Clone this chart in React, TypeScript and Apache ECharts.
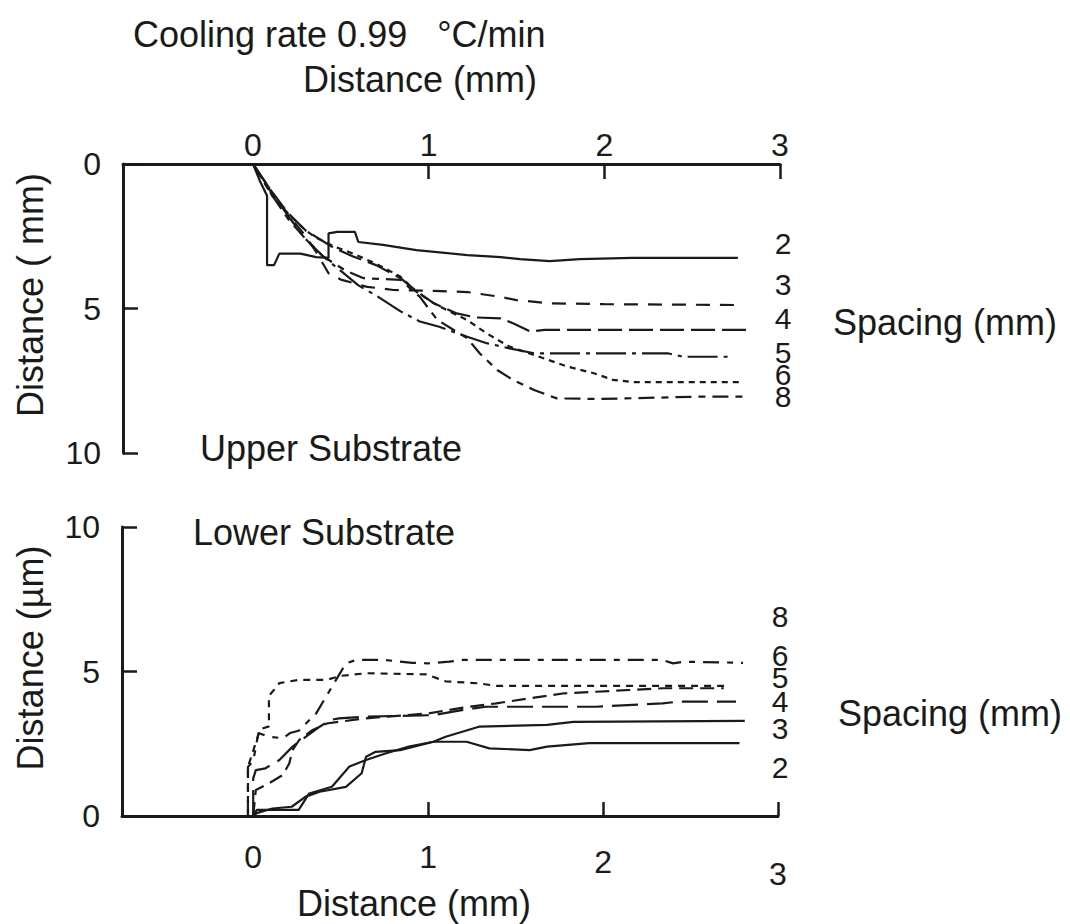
import React, { useEffect, useRef } from "react";
import * as echarts from "echarts";

// ---------- data ----------
// Upper substrate: [distance along (mm), distance down (mm)]
const upperSpacing2: [number, number][] = [
  [0, 0], [0.02, 0.3], [0.04, 0.6], [0.06, 0.85], [0.08, 1.1], [0.08, 3.5], [0.12, 3.5],
  [0.15, 3.1], [0.27, 3.1], [0.36, 3.22], [0.43, 3.25], [0.43, 2.4], [0.48, 2.35],
  [0.58, 2.35], [0.6, 2.7], [0.74, 2.8], [0.93, 2.98], [1.22, 3.15], [1.41, 3.22],
  [1.52, 3.29], [1.69, 3.36], [1.86, 3.29], [2.16, 3.25], [2.76, 3.25],
];
const upperSpacing3: [number, number][] = [
  [0, 0], [0.05, 0.5], [0.1, 0.95], [0.2, 1.75], [0.3, 2.5], [0.36, 3.05], [0.43, 3.78],
  [0.5, 4.0], [0.65, 4.25], [0.8, 4.36], [1.03, 4.39], [1.22, 4.43], [1.41, 4.6],
  [1.5, 4.71], [1.69, 4.82], [2.0, 4.85], [2.76, 4.88],
];
const upperSpacing4: [number, number][] = [
  [0, 0], [0.1, 0.9], [0.2, 1.7], [0.3, 2.3], [0.46, 2.9], [0.57, 3.2], [0.7, 3.5],
  [0.84, 3.95], [0.93, 4.4], [1.03, 4.82], [1.16, 5.17], [1.27, 5.31], [1.41, 5.34],
  [1.48, 5.51], [1.58, 5.8], [1.66, 5.74], [2.81, 5.74],
];
const upperSpacing5: [number, number][] = [
  [0, 0], [0.1, 0.9], [0.2, 1.8], [0.3, 2.6], [0.4, 3.2], [0.5, 3.7], [0.6, 4.2],
  [0.7, 4.55], [0.84, 5.1], [0.95, 5.45], [1.06, 5.63], [1.22, 5.98], [1.33, 6.2],
  [1.46, 6.38], [1.6, 6.55], [2.36, 6.55], [2.45, 6.67], [2.73, 6.67],
];
const upperSpacing6: [number, number][] = [
  [0, 0], [0.12, 1.2], [0.23, 1.9], [0.3, 2.3], [0.36, 2.55], [0.46, 2.85], [0.57, 3.1],
  [0.7, 3.45], [0.84, 3.9], [0.93, 4.42], [1.03, 4.82], [1.12, 5.11], [1.22, 5.4],
  [1.33, 5.86], [1.46, 6.32], [1.63, 6.67], [1.79, 7.01], [1.94, 7.24], [2.05, 7.47],
  [2.17, 7.55], [2.78, 7.55],
];
const upperSpacing8: [number, number][] = [
  [0, 0], [0.1, 1.0], [0.2, 1.9], [0.3, 2.6], [0.4, 3.2], [0.53, 3.7], [0.63, 3.95],
  [0.84, 4.01], [0.95, 4.6], [1.05, 5.4], [1.22, 6.03], [1.29, 6.55], [1.39, 7.13],
  [1.48, 7.47], [1.6, 7.82], [1.73, 8.11], [1.98, 8.13], [2.54, 8.05], [2.81, 8.05],
];

// Lower substrate: [distance along (mm), distance (µm)]
const lowerSpacing2: [number, number][] = [
  [0.0, 0], [0.02, 0.1], [0.11, 0.26], [0.22, 0.32], [0.3, 0.67], [0.38, 0.84],
  [0.53, 1.01], [0.62, 1.48], [0.645, 2.05], [0.7, 2.22], [0.84, 2.28], [1.03, 2.57],
  [1.22, 2.57], [1.35, 2.34], [1.58, 2.28], [1.68, 2.4], [1.92, 2.52], [2.78, 2.52],
];
const lowerSpacing3: [number, number][] = [
  [0.0, 0], [0.02, 0.21], [0.26, 0.21], [0.32, 0.78], [0.45, 1.01], [0.55, 1.71],
  [0.645, 1.94], [0.76, 2.17], [0.89, 2.4], [1.03, 2.57], [1.1, 2.74], [1.29, 3.09],
  [1.68, 3.15], [1.83, 3.26], [2.81, 3.29],
];
const lowerSpacing4: [number, number][] = [
  [0.0, 0], [0.0, 1.3], [0.015, 1.59], [0.07, 1.65], [0.15, 1.94], [0.225, 2.4],
  [0.3, 2.74], [0.38, 3.09], [0.44, 3.32], [0.49, 3.38], [0.645, 3.44], [1.03, 3.49],
  [1.2, 3.67], [1.33, 3.78], [1.96, 3.78], [2.34, 3.9], [2.44, 3.96], [2.76, 3.96],
];
const lowerSpacing8: [number, number][] = [
  [0.0, 0], [0.015, 0.9], [0.09, 1.13], [0.17, 1.42], [0.206, 1.82], [0.225, 2.28],
  [0.263, 2.63], [0.34, 2.98], [0.42, 3.2], [0.49, 3.26], [0.645, 3.38], [1.0, 3.55],
  [1.2, 3.75], [1.39, 3.9], [1.58, 4.07], [1.77, 4.24], [1.96, 4.3], [2.15, 4.36],
  [2.34, 4.42], [2.69, 4.42],
];
const lowerSpacing5: [number, number][] = [
  [-0.03, 0], [-0.03, 1.7], [0.04, 3.0], [0.09, 3.1], [0.09, 4.15], [0.15, 4.6],
  [0.26, 4.71], [0.42, 4.71], [0.5, 4.85], [0.65, 4.94], [0.99, 4.9], [1.1, 4.66],
  [1.29, 4.59], [1.39, 4.5], [2.72, 4.5],
];
const lowerSpacing6: [number, number][] = [
  [-0.03, 0], [-0.03, 1.7], [0.0, 1.9], [0.03, 2.87], [0.09, 2.74], [0.17, 2.69],
  [0.21, 2.87], [0.26, 2.95], [0.36, 3.55], [0.45, 4.47], [0.53, 5.28], [0.59, 5.4],
  [0.75, 5.4], [0.91, 5.3], [1.0, 5.28], [1.12, 5.34], [1.2, 5.4], [1.6, 5.4],
  [2.0, 5.4], [2.34, 5.4], [2.4, 5.28], [2.46, 5.34], [2.8, 5.3],
];

const xTickValues = [1, 2, 3];
const xLabelValues = [0, 1, 2, 3];
const upperSpacingLabels = ["2", "3", "4", "5", "6", "8"];
const lowerSpacingLabels = ["8", "6", "5", "4", "3", "2"];

// ---------- layout / style ----------
const FONT = '"Liberation Sans", Arial, Helvetica, sans-serif';
const INK = "#1a1a1a";
const upperLabelY = [243, 284, 318, 352, 374, 396];
const lowerLabelY = [616, 655, 677, 701, 728, 767];
const lowerXLabelDrop = [0, 0, 5, 17];

export default function App() {
  const ref = useRef<HTMLDivElement>(null);

  useEffect(() => {
    if (!ref.current) return;
    const chart = echarts.init(ref.current, null, { renderer: "svg" });

    const lineSeries = (
      name: string,
      data: [number, number][],
      idx: number,
      type: any
    ) => ({
      name,
      type: "line",
      xAxisIndex: idx,
      yAxisIndex: idx,
      data,
      showSymbol: false,
      symbol: "none",
      silent: true,
      lineStyle: { color: INK, width: 2.2, type },
    });

    const axisLineStyle = { color: INK, width: 3 };
    const tickStyle = { color: INK, width: 2.5 };

    const txt = (
      text: string,
      x: number,
      y: number,
      size: number,
      align = "left",
      rotation = 0,
      lineHeight?: number
    ) => ({
      type: "text",
      x,
      y,
      rotation,
      style: {
        text,
        fill: INK,
        font: `${size}px ${FONT}`,
        textAlign: align,
        textVerticalAlign: "middle",
        ...(lineHeight ? { lineHeight } : {}),
      },
    });

    const graphics: any[] = [
      txt("Cooling rate 0.99 \u00a0 °C/min", 133, 34, 36),
      txt("Distance (mm)", 303, 79, 36),
      txt("Distance ( mm)", 30, 295, 36, "center", Math.PI / 2),
      txt("Upper Substrate", 200, 448, 36),
      txt("Lower Substrate", 193, 532, 36),
      txt("Distance (µm)", 30, 658, 36, "center", Math.PI / 2),
      txt("Spacing (mm)", 833, 322, 36),
      txt("Spacing (mm)", 838, 713, 36),
      txt("Distance (mm)", 297, 903, 36),
    ];
    upperSpacingLabels.forEach((s, i) =>
      graphics.push(txt(s, 783, upperLabelY[i], 30, "center", 0, 20))
    );
    lowerSpacingLabels.forEach((s, i) =>
      graphics.push(txt(s, 780, lowerLabelY[i], 30, "center", 0, 20))
    );

    const rich: any = {};
    lowerXLabelDrop.forEach((d, i) => {
      rich["t" + i] = { fontSize: 32, fontFamily: FONT, color: INK, padding: [d, 0, 0, 0] };
    });

    chart.setOption({
      animation: false,
      backgroundColor: "#ffffff",
      grid: [
        { left: 123, top: 164, width: 657, height: 289 },
        { left: 122, top: 527, width: 656, height: 289 },
      ],
      xAxis: [
        {
          gridIndex: 0,
          type: "value",
          min: -0.74,
          max: 3,
          position: "top",
          axisLine: { show: true, onZero: false, lineStyle: axisLineStyle },
          axisTick: { show: true, inside: true, length: 15, customValues: xTickValues, lineStyle: tickStyle },
          axisLabel: {
            customValues: xLabelValues,
            fontSize: 32,
            fontFamily: FONT,
            color: INK,
            margin: 3,
          },
          splitLine: { show: false },
        },
        {
          gridIndex: 1,
          type: "value",
          min: -0.75,
          max: 3,
          position: "bottom",
          axisLine: { show: true, onZero: false, lineStyle: axisLineStyle },
          axisTick: { show: true, inside: true, length: 14, customValues: xTickValues, lineStyle: tickStyle },
          axisLabel: {
            customValues: xLabelValues,
            fontSize: 32,
            fontFamily: FONT,
            color: INK,
            margin: 25,
            formatter: (v: number) => {
              const i = xLabelValues.indexOf(Math.round(v));
              return `{t${i}|${Math.round(v)}}`;
            },
            rich,
          },
          splitLine: { show: false },
        },
      ],
      yAxis: [
        {
          gridIndex: 0,
          type: "value",
          min: 0,
          max: 10,
          interval: 5,
          inverse: true,
          axisLine: { show: true, onZero: false, lineStyle: axisLineStyle },
          axisTick: { show: true, inside: true, length: 15, lineStyle: tickStyle },
          axisLabel: { fontSize: 32, fontFamily: FONT, color: INK, margin: 22 },
          splitLine: { show: false },
        },
        {
          gridIndex: 1,
          type: "value",
          min: 0,
          max: 10,
          interval: 5,
          axisLine: { show: true, onZero: false, lineStyle: axisLineStyle },
          axisTick: { show: true, inside: true, length: 15, lineStyle: tickStyle },
          axisLabel: { fontSize: 32, fontFamily: FONT, color: INK, margin: 22 },
          splitLine: { show: false },
        },
      ],
      series: [
        lineSeries("Upper 2", upperSpacing2, 0, "solid"),
        lineSeries("Upper 3", upperSpacing3, 0, [14, 10]),
        lineSeries("Upper 4", upperSpacing4, 0, [24, 7]),
        lineSeries("Upper 5", upperSpacing5, 0, [30, 6, 4, 6]),
        lineSeries("Upper 6", upperSpacing6, 0, [6, 5]),
        lineSeries("Upper 8", upperSpacing8, 0, [16, 7, 7, 7]),
        lineSeries("Lower 2", lowerSpacing2, 1, "solid"),
        lineSeries("Lower 3", lowerSpacing3, 1, "solid"),
        lineSeries("Lower 4", lowerSpacing4, 1, [26, 9]),
        lineSeries("Lower 8", lowerSpacing8, 1, [14, 7]),
        lineSeries("Lower 5", lowerSpacing5, 1, [7, 6]),
        lineSeries("Lower 6", lowerSpacing6, 1, [16, 8, 6, 8]),
      ],
      graphic: graphics,
    });

    return () => chart.dispose();
  }, []);

  return (
    <div
      ref={ref}
      style={{ position: "absolute", left: 0, top: 0, width: 1070, height: 924, background: "#fff" }}
    />
  );
}
